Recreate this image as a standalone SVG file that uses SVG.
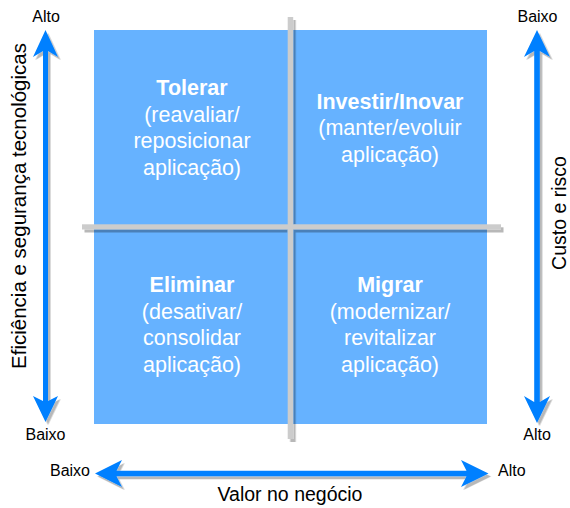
<svg xmlns="http://www.w3.org/2000/svg" width="570" height="508" viewBox="0 0 570 508">
<style>
.q{fill:#66B2FF}
.qt{font-family:"Liberation Sans",Arial,sans-serif;font-size:21.5px;fill:#FFFFFF;text-anchor:middle}
.b{font-weight:bold}
.lbl{font-family:"Liberation Sans",Arial,sans-serif;font-size:16px;fill:#000000}
.ax{font-family:"Liberation Sans",Arial,sans-serif;font-size:19.5px;fill:#000000;text-anchor:middle}
.arr{fill:#0080FF}
.div{fill:#CCCCCC}
</style>
<defs>
<filter id="sh" x="-20%" y="-20%" width="140%" height="140%">
<feDropShadow dx="2.5" dy="3" stdDeviation="0.4" flood-color="#000" flood-opacity="0.28"/>
</filter>
</defs>
<g id="tolerar">
<rect class="q" x="94" y="30" width="197" height="197"/>
<text class="qt b" x="192" y="95">Tolerar</text>
<text class="qt" x="192" y="121.5">(reavaliar/</text>
<text class="qt" x="192" y="148">reposicionar</text>
<text class="qt" x="192" y="174.5">aplicação)</text>
</g>
<g id="investir">
<rect class="q" x="290" y="30" width="197" height="197"/>
<text class="qt b" x="390" y="108.5">Investir/Inovar</text>
<text class="qt" x="390" y="135">(manter/evoluir</text>
<text class="qt" x="390" y="161.5">aplicação)</text>
</g>
<g id="eliminar">
<rect class="q" x="94" y="226" width="197" height="198"/>
<text class="qt b" x="192" y="292">Eliminar</text>
<text class="qt" x="192" y="318.5">(desativar/</text>
<text class="qt" x="192" y="345">consolidar</text>
<text class="qt" x="192" y="371.5">aplicação)</text>
</g>
<g id="migrar">
<rect class="q" x="290" y="226" width="197" height="198"/>
<text class="qt b" x="390" y="292">Migrar</text>
<text class="qt" x="390" y="318.5">(modernizar/</text>
<text class="qt" x="390" y="345">revitalizar</text>
<text class="qt" x="390" y="371.5">aplicação)</text>
</g>
<g id="dividers" filter="url(#sh)">
<rect class="div" x="82" y="224.3" width="419" height="5.2"/>
<rect class="div" x="287.7" y="17" width="5.5" height="422"/>
</g>
<g id="connectors" filter="url(#sh)">
<path class="arr" d="M45.5,30 L58,57 L48,51 L48,401 L58,396 L45.5,422 L33,396 L43,401 L43,51 L33,57 Z"/>
<path class="arr" d="M537,30 L550,57 L539.8,51 L539.8,402 L550,396 L537,423 L524,396 L534.2,402 L534.2,51 L524,57 Z"/>
<path class="arr" d="M95,473.5 L122,460 L116.5,470.7 L466.5,470.7 L461,460 L488.5,473.5 L461,487 L466.5,476.3 L116.5,476.3 L122,487 Z"/>
</g>
<g id="labels">
<text class="lbl" x="46" y="22" text-anchor="middle">Alto</text>
<text class="lbl" x="45.5" y="439.5" text-anchor="middle">Baixo</text>
<text class="lbl" x="537.5" y="22" text-anchor="middle">Baixo</text>
<text class="lbl" x="537" y="439.5" text-anchor="middle">Alto</text>
<text class="lbl" x="90" y="476" text-anchor="end">Baixo</text>
<text class="lbl" x="498" y="476">Alto</text>
<text class="ax" x="290" y="501">Valor no negócio</text>
<text class="ax" style="font-size:20.5px" transform="translate(25.5,206) rotate(-90)">Eficiência e segurança tecnológicas</text>
<text class="ax" transform="translate(566,213) rotate(-90)">Custo e risco</text>
</g>
</svg>
